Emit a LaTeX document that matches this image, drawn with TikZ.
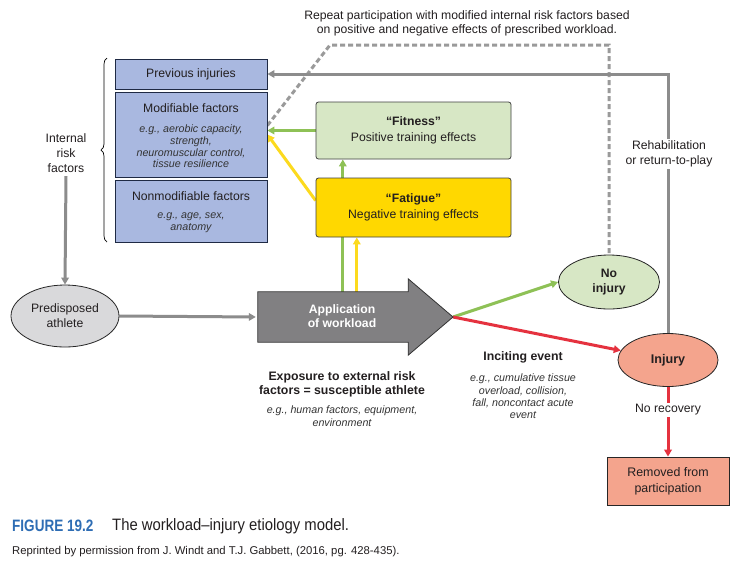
\documentclass[tikz,border=0pt]{standalone}
\usepackage{fontspec}
\setmainfont{Liberation Sans}
\newfontfamily\capfont[FakeStretch=0.82]{Liberation Sans}
\newfontfamily\capfontt[FakeStretch=0.9]{Liberation Sans}
\usetikzlibrary{arrows.meta,decorations.pathreplacing,backgrounds,shapes.geometric,calc}
\definecolor{boxblue}{HTML}{A9B8E0}
\definecolor{navyedge}{HTML}{1F2A44}
\definecolor{fitgreen}{HTML}{D7E7C5}
\definecolor{fatyellow}{HTML}{FFD800}
\definecolor{lgreen}{HTML}{8EC156}
\definecolor{lyellow}{HTML}{FCDA1E}
\definecolor{lred}{HTML}{E5323F}
\definecolor{salmon}{HTML}{F4A48D}
\definecolor{lgray}{HTML}{8C8C8C}
\definecolor{dgray}{HTML}{9A9A9A}
\definecolor{appfill}{HTML}{818082}
\definecolor{predfill}{HTML}{D9D9DB}
\definecolor{capblue}{HTML}{2E6DB4}
\definecolor{txt}{HTML}{231F20}
\tikzset{
  f12/.style={font=\fontsize{12.2}{14.5}\selectfont},
  bluebox/.style={draw=navyedge, fill=boxblue, line width=0.8pt, minimum width=152pt, inner sep=0pt, align=center, text=txt, f12},
  effbox/.style={draw=black!75, line width=0.8pt, rounded corners=2.5pt, minimum width=195pt, inner sep=0pt, align=center, text=txt, f12},
  oval/.style={ellipse, draw=black!85, line width=0.8pt, inner sep=0pt, align=center, text=txt},
  ex/.style={font=\fontsize{10.7}{11.7}\selectfont\itshape, align=center, text=black!80},
  boxtxt/.style={align=center, text=txt, f12},
  conn/.style={line width=3pt},
  tipa/.style={-{Triangle[length=7pt,width=7.5pt]}},
  gline/.style={conn, draw=lgray},
  dline/.style={conn, draw=dgray, dash pattern=on 5pt off 3pt},
  lbl/.style={fill=white, inner sep=2pt, align=center, text=txt, font=\fontsize{12.2}{15}\selectfont}
}
\begin{document}
\begin{tikzpicture}[x=1pt,y=-1pt]
\useasboundingbox (0,0) rectangle (742,566);

% internal risk factor boxes
\node[bluebox, minimum height=30pt] (prev) at (191,74) {Previous injuries};
\node[bluebox, minimum height=85pt] (mod) at (191,134.5) {};
\node[boxtxt] (modh) at (191,108) {Modifiable factors};
\node[ex] (modeg) at (191,146.5) {e.g., aerobic capacity,\\strength,\\neuromuscular control,\\tissue resilience};
\node[bluebox, minimum height=62pt] (nonmod) at (191,211) {};
\node[boxtxt] (nonmodh) at (191,196) {Nonmodifiable factors};
\node[ex] (nonmodeg) at (191,222.5) {e.g., age, sex,\\anatomy};
\draw[decorate, decoration={brace, amplitude=6pt}, line width=0.7pt] (107,242) -- (107,58);
\node[align=center, text=txt, font=\fontsize{12.2}{15}\selectfont] (irf) at (66,153) {Internal\\risk\\factors};

% training effect boxes
\node[effbox, fill=fitgreen, minimum height=57pt] (fitness) at (413.5,130.5) {\textbf{“Fitness”}\\[1.5pt]Positive training effects};
\node[effbox, fill=fatyellow, minimum height=59pt] (fatigue) at (413.5,207.5) {\textbf{“Fatigue”}\\[1pt]Negative training effects};

% ellipses
\node[oval, fill=predfill, minimum width=108pt, minimum height=62pt, font=\fontsize{12.2}{15}\selectfont] (pred) at (65,316) {Predisposed\\athlete};
\node[oval, fill=fitgreen, minimum width=101pt, minimum height=54pt, font=\bfseries\fontsize{12.2}{15}\selectfont] (noinj) at (609,282) {No\\injury};
\node[oval, fill=salmon, minimum width=100pt, minimum height=53pt, font=\bfseries\fontsize{12.6}{14}\selectfont] (injury) at (668,360) {Injury};
\node[draw=black!85, fill=salmon, line width=0.8pt, minimum width=122pt, minimum height=48pt, inner sep=0pt, align=center, text=txt, font=\fontsize{12.4}{16}\selectfont] (removed) at (668,481) {Removed from\\participation};

% application of workload arrow
\node[minimum width=150pt, minimum height=50pt, inner sep=0pt] (app) at (333,317) {};
\coordinate (apptip) at (453,317);
\draw[fill=appfill, draw=black!80, line width=0.8pt, line join=miter]
  (app.north west) -- (app.north east) -- ++(0,-13) -- (apptip)
  -- ($(app.south east)+(0,13)$) -- (app.south east) -- (app.south west) -- cycle;
\node[text=white, align=center, font=\bfseries\fontsize{12.2}{14}\selectfont] (apptext) at (342,316) {Application\\of workload};

% texts
\node[align=center, text=txt, font=\fontsize{12.2}{14}\selectfont] (repeat) at (467,23) {Repeat participation with modified internal risk factors based\\on positive and negative effects of prescribed workload.};
\node[align=center, text=txt, font=\bfseries\fontsize{12.3}{14}\selectfont] (expo) at (342,384) {Exposure to external risk\\factors = susceptible athlete};
\node[ex, font=\fontsize{10.7}{13}\selectfont\itshape] (expoeg) at (342,416.5) {e.g., human factors, equipment,\\environment};
\node[text=txt, font=\bfseries\fontsize{12.3}{14}\selectfont] (incite) at (523,357) {Inciting event};
\node[ex, font=\fontsize{10.7}{12.3}\selectfont\itshape] (inciteeg) at (523,396.5) {e.g., cumulative tissue\\overload, collision,\\fall, noncontact acute\\event};

% connectors
\begin{scope}[on background layer]
  \fill[white] (0,0) rectangle (742,566);
  \draw[dline] ([yshift=9pt]mod.east) -- (330,45) coordinate (dc) -- (dc -| noinj.north) -- (noinj.north);
  \draw[gline, tipa] (injury.north) |- (prev.east);
  \draw[gline, tipa] (irf.south) -- (pred.north);
  \draw[gline, tipa, shorten >=2pt] (pred.east) -- (app.west);
  \draw[conn, draw=lgreen, tipa] ([xshift=85pt]app.north west) -- ([xshift=85pt]app.north west |- fitness.south);
  \draw[conn, draw=lyellow, tipa] ([xshift=99pt]app.north west) -- ([xshift=99pt]app.north west |- fatigue.south);
  \draw[conn, draw=lgreen, tipa] (fitness.west) -- (fitness.west -| mod.east);
  \draw[conn, draw=lyellow, tipa] ([yshift=7pt]fatigue.west) -- (mod.east);
  \draw[conn, draw=lgreen, tipa] (apptip) -- (noinj.west);
  \draw[conn, draw=lred, tipa] (apptip) -- (injury);
  \draw[conn, draw=lred, tipa] (injury.south) -- (removed.north);
\end{scope}
\node[lbl] (rehab) at (669,154) {Rehabilitation\\or return-to-play};
\node[lbl] (norec) at (668,410) {No recovery};

% caption
\node[anchor=west, inner sep=0pt, text=capblue, font=\capfont\bfseries\fontsize{16.5}{18}\selectfont] (fig) at (12,526) {FIGURE 19.2};
\node[anchor=west, inner sep=0pt, text=txt, font=\capfontt\fontsize{16.5}{18}\selectfont] (figt) at (112,526) {The workload–injury etiology model.};
\node[anchor=west, inner sep=0pt, text=txt, font=\fontsize{11.3}{13}\selectfont] (reprint) at (12,552) {Reprinted by permission from J. Windt and T.J. Gabbett, (2016, pg. 428-435).};
\end{tikzpicture}
\end{document}
